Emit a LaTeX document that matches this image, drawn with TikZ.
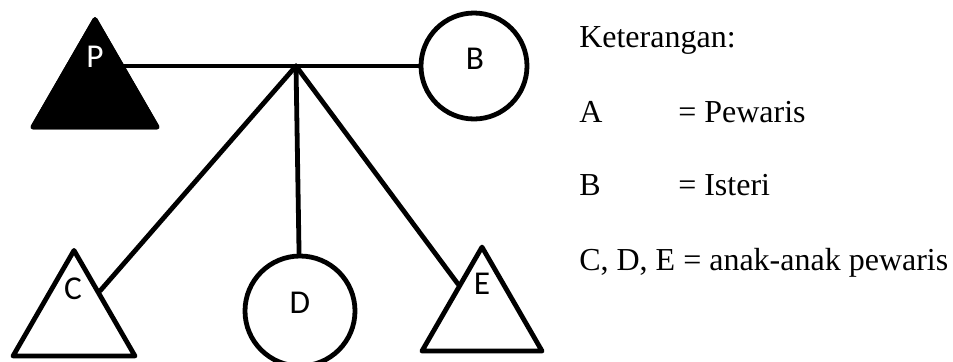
\documentclass[tikz,border=0pt]{standalone}
\usepackage{fontspec}
\setmainfont{Liberation Serif}
\newfontfamily\labelfont{Carlito}
\usetikzlibrary{shapes.geometric}
\newcommand\taglabel[1]{{\labelfont\fontsize{25pt}{30pt}\selectfont #1}}
\tikzset{
  link/.style={line width=3.6pt, line cap=round},
  person/.style={draw, line width=3.6pt, line join=round, inner sep=0pt},
  male/.style={person, regular polygon, regular polygon sides=3},
  female/.style={person, circle},
  tag/.style={inner sep=0pt, anchor=base},
  note/.style={font=\fontsize{24pt}{28pt}\selectfont, inner sep=0pt, anchor=base west},
}
\begin{document}
\begin{tikzpicture}[x=0.75pt, y=-0.75pt]
  \useasboundingbox (0,0) rectangle (953,361);

  % family members
  \node[male, fill=black, minimum size=107.4pt] (P) at (95,91.2) {};
  \node[female, minimum size=79.5pt] (B) at (474,66) {};
  \node[male, minimum size=105.6pt] (C) at (74,320.8) {};
  \node[female, minimum size=82.5pt] (D) at (300,311) {};
  \node[male, minimum size=104pt] (E) at (482,316.4) {};

  % marriage line and descent lines
  \coordinate (j) at (296,66);
  \draw[link] (B) -- (B -| P.center);
  \draw[link] (j) -- (C);
  \draw[link] (j) -- (D);
  \draw[link] (j) -- (E);
  \node[male, fill=black, minimum size=107.4pt] at (P) {};

  % letters in the symbols
  \node[tag, text=white] (tP) at (95,67) {\taglabel{P}};
  \node[tag] (tB) at (475,69) {\taglabel{B}};
  \node[tag] (tC) at (73,299) {\taglabel{C}};
  \node[tag] (tD) at (300,313) {\taglabel{D}};
  \node[tag] (tE) at (482,294) {\taglabel{E}};

  % legend
  \node[note] (k0) at (579,47) {Keterangan:};
  \node[note] (k1) at (579,122) {A};
  \node[note] (v1) at (678,122) {= Pewaris};
  \node[note] (k2) at (579,195) {B};
  \node[note] (v2) at (678,195) {= Isteri};
  \node[note] (k3) at (579,270) {C, D, E = anak-anak pewaris};
\end{tikzpicture}
\end{document}
